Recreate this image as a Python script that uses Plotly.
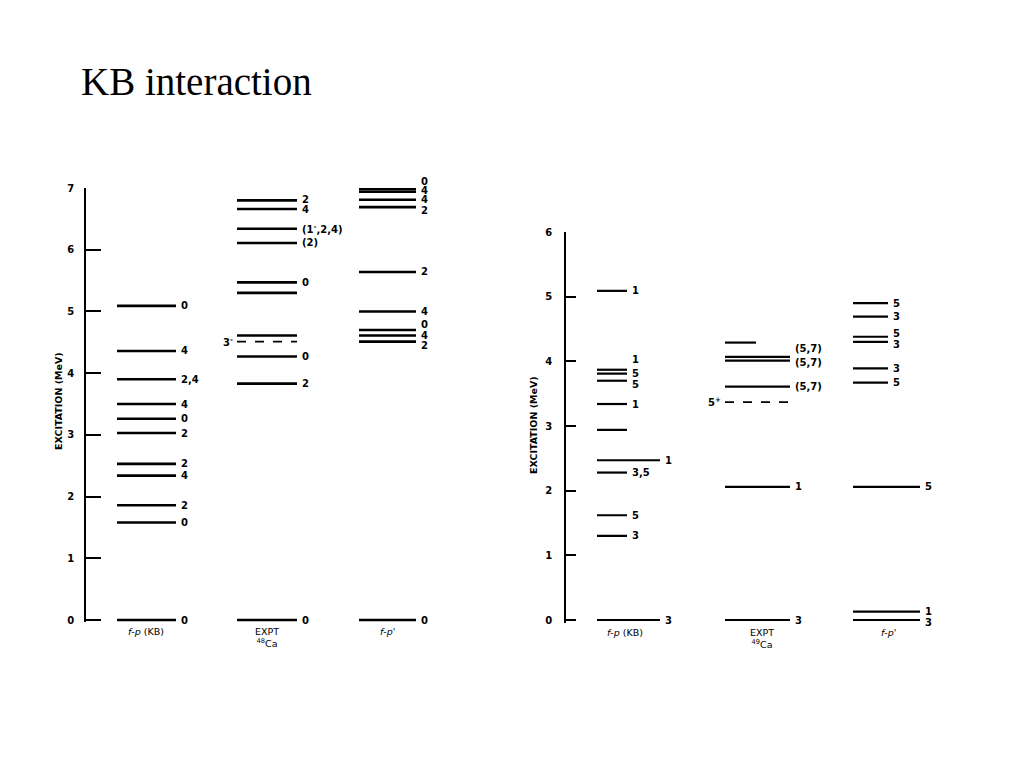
import plotly.graph_objects as go

# ---------------- data ----------------
# 48Ca panel (energies in MeV, spin labels)
kb48_E = [5.09, 4.36, 3.90, 3.50, 3.26, 3.03, 2.53, 2.34, 1.86, 1.58, 0.0]
kb48_J = ["0", "4", "2,4", "4", "0", "2", "2", "4", "2", "0", "0"]
exp48_E = [6.80, 6.66, 6.34, 6.11, 5.47, 5.30, 4.61, 4.27, 3.83, 0.0]
exp48_J = ["2", "4", "(1<sup>-</sup>,2,4)", "(2)", "0", "", "", "0", "2", "0"]
exp48_dash_E = [4.51]
exp48_dash_J = ["3<sup>-</sup>"]
fp48_E = [6.98, 6.94, 6.81, 6.69, 5.64, 5.00, 4.70, 4.61, 4.51, 0.0]
fp48_J = ["0", "4", "4", "2", "2", "4", "0", "4", "2", "0"]

# 49Ca panel
kb49_E = [5.09, 3.87, 3.81, 3.70, 3.34, 2.94, 2.47, 2.28, 1.62, 1.30, 0.0]
kb49_J = ["1", "1", "5", "5", "1", "", "1", "3,5", "5", "3", "3"]
exp49_E = [4.29, 4.07, 4.01, 3.61, 2.06, 0.0]
exp49_J = ["", "(5,7)", "(5,7)", "(5,7)", "1", "3"]
exp49_dash_E = [3.37]
exp49_dash_J = ["5<sup>+</sup>"]
fp49_E = [4.90, 4.69, 4.38, 4.30, 3.89, 3.67, 2.06, 0.13, 0.0]
fp49_J = ["5", "3", "5", "3", "3", "5", "5", "1", "3"]

left_ticks = [0, 1, 2, 3, 4, 5, 6, 7]
right_ticks = [0, 1, 2, 3, 4, 5, 6]
col_names_48 = ["<i>f</i>-<i>p</i> (KB)", "EXPT<br><sup>48</sup>Ca", "<i>f</i>-<i>p'</i>"]
col_names_49 = ["<i>f</i>-<i>p</i> (KB)", "EXPT<br><sup>49</sup>Ca", "<i>f</i>-<i>p'</i>"]

# ---------------- layout / style (pixels) ----------------
W, H = 1024, 768
# column x extents (start, default end)
cols48 = [(117, 176), (237, 297), (359, 416)]
cols49 = [(597, 627), (725, 790), (853, 888)]
name_x48 = [146, 267, 387]
name_x49 = [625, 762, 888]
# per-level end overrides and label y-shifts (px)
kb49_end = {6: 660, 10: 660}
exp49_end = {0: 756}
fp49_end = {6: 920, 7: 920, 8: 920}
exp48_shift = {0: 1, 1: -1}
fp48_shift = {0: 8, 1: 1, 3: -3, 6: 5, 8: -4}
kb49_shift = {1: 10, 3: -4}
exp49_shift = {1: 8, 2: -2}
fp49_shift = {2: 3, 3: -3, 8: -2}

# axis pixel geometry
L_Y0, L_YT, L_TOP = 620, 188, 7
R_Y0, R_YT, R_TOP = 620, 232, 6
PAD = 0.04


def domain_for(y0, yt, top):
    ppu = (y0 - yt) / top
    bottom_px = y0 + PAD * ppu
    return [(H - bottom_px) / H, (H - yt) / H]


SANS = "DejaVu Sans, Verdana, sans-serif"
LBL_FONT = dict(family=SANS, size=10, color="black", weight="bold")
LW = 2.6

fig = go.Figure()
annotations = []


def add_column(E, J, x0, x1def, yaxis, xaxis, ends=None, shifts=None, dash=False, label_left=False, lw=LW):
    ends = ends or {}
    shifts = shifts or {}
    xs, ys = [], []
    for i, e in enumerate(E):
        x1 = ends.get(i, x1def)
        xs += [x0, x1, None]
        ys += [e, e, None]
        if J[i]:
            if label_left:
                annotations.append(dict(x=x0 - 2, y=e, xref=xaxis, yref=yaxis, text=J[i],
                                        showarrow=False, xanchor="right", yanchor="middle",
                                        font=LBL_FONT, yshift=shifts.get(i, 0)))
            else:
                annotations.append(dict(x=x1 + 3, y=e, xref=xaxis, yref=yaxis, text=J[i],
                                        showarrow=False, xanchor="left", yanchor="middle",
                                        font=LBL_FONT, yshift=shifts.get(i, 0)))
    fig.add_trace(go.Scatter(x=xs, y=ys, mode="lines", xaxis=xaxis, yaxis=yaxis,
                             line=dict(color="black", width=lw, dash="dash" if dash else "solid"),
                             hoverinfo="skip", showlegend=False))


# left panel
add_column(kb48_E, kb48_J, *cols48[0], "y", "x")
add_column(exp48_E, exp48_J, *cols48[1], "y", "x", shifts=exp48_shift)
add_column(exp48_dash_E, exp48_dash_J, *cols48[1], "y", "x", dash=True, label_left=True, lw=1.8)
add_column(fp48_E, fp48_J, *cols48[2], "y", "x", shifts=fp48_shift)
# right panel
add_column(kb49_E, kb49_J, *cols49[0], "y2", "x2", ends=kb49_end, shifts=kb49_shift, lw=2.2)
add_column(exp49_E, exp49_J, *cols49[1], "y2", "x2", ends=exp49_end, shifts=exp49_shift, lw=2.2)
add_column(exp49_dash_E, exp49_dash_J, *cols49[1], "y2", "x2", dash=True, label_left=True, lw=1.8)
add_column(fp49_E, fp49_J, *cols49[2], "y2", "x2", ends=fp49_end, shifts=fp49_shift, lw=2.2)

# column names
for cx, name in zip(name_x48, col_names_48):
    annotations.append(dict(x=cx, y=(H - 624) / H, xref="x", yref="paper", text=name,
                            showarrow=False, xanchor="center", yanchor="top",
                            font=dict(family=SANS, size=9.5, color="black")))
for cx, name in zip(name_x49, col_names_49):
    annotations.append(dict(x=cx, y=(H - 625) / H, xref="x2", yref="paper", text=name,
                            showarrow=False, xanchor="center", yanchor="top",
                            font=dict(family=SANS, size=9.5, color="black")))

# axis titles
annotations.append(dict(x=58 / W, y=(H - 401) / H, xref="paper", yref="paper",
                        text="EXCITATION (MeV)", textangle=-90, showarrow=False,
                        xanchor="center", yanchor="middle",
                        font=dict(family=SANS, size=9.5, color="black", weight="bold")))
annotations.append(dict(x=533 / W, y=(H - 425) / H, xref="paper", yref="paper",
                        text="EXCITATION (MeV)", textangle=-90, showarrow=False,
                        xanchor="center", yanchor="middle",
                        font=dict(family=SANS, size=9.5, color="black", weight="bold")))

# title
annotations.append(dict(x=79 / W, y=(H - 81) / H, xref="paper", yref="paper",
                        text="KB interaction", showarrow=False, xanchor="left", yanchor="middle",
                        font=dict(family="Liberation Serif, Times New Roman", size=39, color="black")))

axis_common = dict(showgrid=False, zeroline=False, showline=True, linecolor="black", linewidth=1.6,
                   ticks="inside", tickcolor="black", tickwidth=1.6, automargin=False,
                   tickfont=dict(family=SANS, size=10, color="black", weight="bold"),
                   anchor="free", fixedrange=True)

fig.update_layout(
    width=W, height=H, margin=dict(l=0, r=0, t=0, b=0, pad=0, autoexpand=False),
    paper_bgcolor="white", plot_bgcolor="rgba(0,0,0,0)",
    xaxis=dict(domain=[0, 1], range=[0, W], visible=False, anchor="y", fixedrange=True, automargin=False),
    xaxis2=dict(domain=[0, 1], range=[0, W], visible=False, anchor="y2", fixedrange=True, automargin=False),
    yaxis=dict(domain=domain_for(L_Y0, L_YT, L_TOP), range=[-PAD, L_TOP], position=85 / W,
               tickvals=left_ticks, ticklen=15, ticklabelstandoff=8, **axis_common),
    yaxis2=dict(domain=domain_for(R_Y0, R_YT, R_TOP), range=[-PAD, R_TOP], position=565 / W,
                tickvals=right_ticks, ticklen=10, ticklabelstandoff=10, **axis_common),
    annotations=annotations,
    showlegend=False,
)

fig.write_html("out.html", config={"displayModeBar": False},
               post_script="document.body.style.margin='0px';document.body.style.overflow='hidden';")
